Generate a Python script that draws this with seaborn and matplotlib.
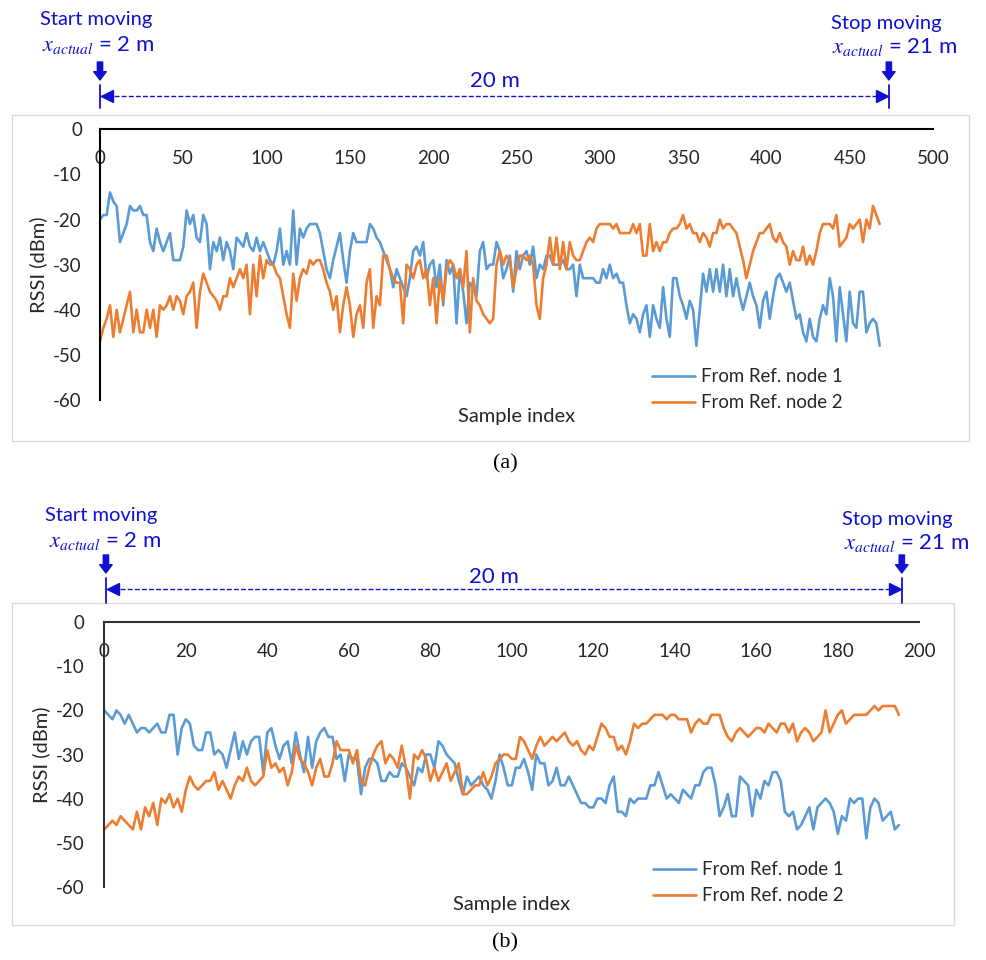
import numpy as np
import pandas as pd
import matplotlib
matplotlib.use("Agg")
import matplotlib.pyplot as plt
import seaborn as sns
from matplotlib.patches import Rectangle, FancyArrowPatch, ArrowStyle
from matplotlib.lines import Line2D
from matplotlib.transforms import blended_transform_factory, offset_copy

# ---------------------------------------------------------------- data
SERIES = ["From Ref. node 1", "From Ref. node 2"]

# (a) long walk, every second sample index
a_index = list(range(0, 469, 2))
a_node1 = [
    -20, -19, -19, -14, -16, -17, -25, -23, -21, -17,
    -18, -18, -17, -19, -19, -25, -27, -22, -25, -27,
    -25, -23, -29, -29, -29, -26, -18, -21, -19, -24,
    -25, -19, -21, -31, -25, -27, -24, -29, -25, -27,
    -31, -24, -25, -26, -23, -26, -27, -24, -27, -25,
    -27, -29, -30, -27, -22, -30, -27, -30, -18, -30,
    -22, -24, -22, -21, -21, -21, -23, -27, -31, -33,
    -29, -26, -23, -29, -34, -27, -23, -25,
    -25, -25, -25, -21, -22, -24, -25, -27, -29, -31,
    -35, -31, -33, -35, -37, -33, -27, -26, -28, -25,
    -33, -30, -29, -35, -30, -39, -29, -32, -30, -43,
    -31, -36, -43, -34, -35, -37, -27, -25, -31, -30,
    -30, -25, -27, -33, -31, -28, -36, -27, -31, -28,
    -27, -30, -26, -33, -30, -31, -28, -28, -30, -30,
    -30, -29, -31, -31, -30, -37, -30, -33, -33, -33,
    -33, -34, -34, -31, -33, -30, -33, -32, -34, -34,
    -39,
    -43, -41, -42, -45, -41, -39, -46, -39, -42, -44,
    -35, -42, -46, -33, -33, -37, -39, -42, -38, -40,
    -48, -40, -32, -36, -31, -36, -31, -36, -30, -37,
    -31, -37, -33, -37, -40, -37, -34, -37, -39, -44,
    -38, -36, -42, -37, -33, -32, -34, -36, -34, -38,
    -42, -41, -45, -47, -42, -46, -47, -42, -39, -41,
    -33, -37, -47, -35, -41, -47, -36, -43, -44, -36,
    -36, -45, -43, -42, -43, -48,
]
a_node2 = [
    -47, -44, -42, -39, -46, -40, -45, -42, -39, -36,
    -45, -40, -45, -45, -40, -44, -40, -46, -39, -40,
    -39, -37, -40, -37, -38, -41, -37, -36, -34, -44,
    -36, -32, -34, -36, -37, -38, -40, -37, -37, -33,
    -35, -33, -31, -33, -30, -41, -30, -37, -28, -33,
    -29, -30, -30, -32, -33, -37, -41, -44, -32, -38,
    -33, -31, -32, -29, -30, -29, -29, -31, -34, -36,
    -40, -37, -45, -39, -35, -39, -46, -41,
    -39, -44, -34, -31, -44, -37, -39, -28, -28, -31,
    -33, -34, -34, -43, -30, -31, -33, -30, -29, -33,
    -31, -39, -33, -43, -33, -38, -31, -29, -30, -33,
    -31, -35, -27, -45, -33, -38, -39, -41, -42, -43,
    -42, -30, -27, -30, -28, -29, -35, -31, -28, -28,
    -29, -28, -30, -39, -42, -33, -30, -24, -30, -24,
    -31, -25, -31, -25, -28, -29, -29, -27, -25, -24,
    -25, -22, -21, -21, -21, -21, -22, -21, -23, -23,
    -23,
    -23, -21, -23, -21, -28, -28, -21, -27, -25, -27,
    -25, -25, -23, -22, -22, -21, -19, -22, -21, -23,
    -23, -25, -23, -24, -26, -23, -23, -20, -22, -21,
    -21, -22, -23, -26, -29, -33, -30, -27, -25, -23,
    -23, -22, -21, -24, -25, -23, -25, -26, -30, -27,
    -29, -29, -26, -30, -28, -30, -27, -23, -21, -21,
    -21, -22, -19, -26, -25, -24, -21, -22, -21, -20,
    -25, -20, -22, -17, -19, -21,
]

# (b) short walk, every sample index
b_index = list(range(0, 196))
b_node1 = [
    -20, -21, -22, -20, -21, -23, -21, -23, -25, -24,
    -24, -25, -24, -23, -25, -25, -21, -21, -30, -24,
    -22, -23, -28, -29, -29, -25, -25, -30, -29, -30,
    -33, -29, -25, -31, -27, -30, -27, -26, -26, -34,
    -25, -24, -28, -31, -28, -27, -32, -25, -30, -34,
    -26, -33, -27, -25, -24, -26, -26, -31, -30, -36,
    -30, -31, -31, -39, -33, -31,
    -31, -32, -36, -36, -34, -35, -35, -32, -33, -35,
    -37, -33, -34, -30, -30, -33, -27, -28, -30, -31,
    -32, -36, -39, -35, -37, -36, -35, -37, -38, -40,
    -36, -30, -33, -37, -37, -33, -33, -31, -34, -38,
    -30, -32, -32, -37, -36, -33, -37, -37, -35, -37,
    -39, -41, -41, -42, -42, -40, -40, -41, -37, -35,
    -43, -43, -44, -40, -41,
    -40, -40, -40, -37, -37, -34, -37, -40, -39, -40,
    -41, -38, -39, -40, -37, -37, -34, -33, -33, -37,
    -44, -42, -39, -44, -44, -35, -36, -37, -44, -38,
    -40, -36, -37, -34, -34, -36, -43, -44, -43, -47,
    -46, -44, -42, -47, -42, -41, -40, -41, -43, -48,
    -44, -45, -40, -41, -40, -40, -49, -42, -40, -41,
    -45, -44, -43, -47, -46,
]
b_node2 = [
    -47, -46, -45, -46, -44, -45, -46, -47, -43, -47,
    -42, -44, -41, -46, -40, -41, -39, -42, -40, -43,
    -38, -35, -37, -38, -37, -36, -36, -34, -38, -36,
    -38, -40, -37, -35, -36, -33, -36, -37, -36, -35,
    -29, -33, -32, -34, -33, -37, -34, -28, -31, -32,
    -34, -37, -33, -31, -35, -35, -32, -27, -29, -29,
    -29, -32, -29, -36, -37, -33,
    -30, -28, -27, -32, -30, -31, -33, -28, -33, -40,
    -30, -31, -29, -31, -36, -33, -36, -34, -32, -36,
    -34, -32, -39, -39, -38, -37, -37, -34, -37, -35,
    -32, -31, -30, -30, -31, -31, -26, -27, -29, -31,
    -28, -26, -28, -27, -26, -27, -26, -25, -27, -28,
    -27, -29, -30, -28, -29, -26, -23, -24, -26, -26,
    -29, -28, -30, -27, -23,
    -24, -23, -23, -22, -21, -21, -21, -22, -21, -21,
    -22, -22, -22, -25, -23, -22, -23, -23, -21, -21,
    -21, -24, -26, -27, -25, -24, -25, -26, -25, -24,
    -24, -25, -23, -24, -25, -23, -23, -25, -23, -27,
    -25, -24, -25, -27, -26, -25, -20, -25, -23, -21,
    -20, -23, -22, -21, -21, -21, -21, -20, -19, -20,
    -19, -19, -19, -19, -21,
]

# ---------------------------------------------------------------- style
sns.set_theme(style="white")
plt.rcParams["font.family"] = ["Lato", "DejaVu Sans"]
plt.rcParams["axes.unicode_minus"] = False

BLUE = "#5b9bd5"
ORANGE = "#ed7d31"
NOTE = "#1010d0"
INK = "#262626"

TICK_SIZE = 13.5
TITLE_SIZE = 14.5
LEGEND_SIZE = 13.4

W, H = 986, 960
fig = plt.figure(figsize=(W / 100, H / 100), dpi=100)
fig.patch.set_facecolor("white")


def fy(py):
    return 1 - py / H


def panel(geo, idx, node1, node2, xmax, xstep):
    x0, y0, x1, y1 = geo["axes"]
    ax = fig.add_axes([x0 / W, fy(y1), (x1 - x0) / W, (y1 - y0) / H])
    df = pd.DataFrame({
        "Sample index": list(idx) * 2,
        "RSSI (dBm)": list(node1) + list(node2),
        "series": [SERIES[0]] * len(idx) + [SERIES[1]] * len(idx),
    })
    sns.lineplot(data=df, x="Sample index", y="RSSI (dBm)", hue="series",
                 palette=[BLUE, ORANGE], linewidth=1.9, ax=ax)
    ax.set_xlim(0, xmax)
    ax.set_ylim(-60, 0)
    ax.set_xticks(np.arange(0, xmax + 1, xstep))
    ax.set_yticks(np.arange(-60, 1, 10))
    for side in ("right", "bottom"):
        ax.spines[side].set_visible(False)
    for side in ("top", "left"):
        ax.spines[side].set_visible(True)
        ax.spines[side].set_color(geo["spine"])
        ax.spines[side].set_linewidth(1.5)
    ax.tick_params(axis="x", bottom=False, labelbottom=False, top=True,
                   labeltop=True, length=0, pad=-27.5, labelsize=TICK_SIZE,
                   labelcolor=INK)
    ax.tick_params(axis="y", left=True, length=0, pad=geo["ypad"],
                   labelsize=TICK_SIZE, labelcolor=INK)
    ax.set_xlabel("Sample index", fontsize=TITLE_SIZE, color=INK,
                  labelpad=geo["xlabelpad"])
    ax.set_ylabel("RSSI (dBm)", fontsize=TITLE_SIZE, color=INK, labelpad=4)
    handles, labels = ax.get_legend_handles_labels()
    ax.legend(handles, labels, loc="upper left", bbox_to_anchor=geo["legend"],
              frameon=False, fontsize=LEGEND_SIZE, handlelength=2.3,
              handletextpad=0.32, borderpad=0, borderaxespad=0,
              labelspacing=0.5, labelcolor=INK)

    # chart area outline
    fx0, fy0, fx1, fy1 = geo["frame"]
    fig.add_artist(Rectangle((fx0 / W, fy(fy1)), (fx1 - fx0) / W,
                             (fy1 - fy0) / H, transform=fig.transFigure,
                             fill=False, ec="#d9d9d9", lw=1.0))

    # start / stop markers over the sample axis
    tr = blended_transform_factory(ax.transData, fig.transFigure)
    start, stop = geo["start"], geo["stop"]
    a_top, a_bot = geo["arrow"]
    b_top, b_bot = geo["bar"]
    yd = geo["dash"]
    for xs in (start, stop):
        fig.add_artist(FancyArrowPatch(
            (xs, fy(a_top)), (xs, fy(a_bot)), transform=tr,
            arrowstyle=ArrowStyle("simple", head_length=0.6, head_width=0.9,
                                  tail_width=0.38),
            mutation_scale=10, color=NOTE, shrinkA=0, shrinkB=0))
        fig.add_artist(Line2D([xs, xs], [fy(b_top), fy(b_bot)], transform=tr,
                              color=NOTE, lw=1.3))
    fig.add_artist(Line2D([start, stop], [fy(yd), fy(yd)], transform=tr,
                          color=NOTE, lw=1.0, dashes=(3.5, 1.6)))
    fig.add_artist(Line2D([start], [fy(yd)], marker="<", markersize=8,
                          color=NOTE, lw=0,
                          transform=offset_copy(tr, fig=fig, x=7, y=0,
                                                units="dots")))
    fig.add_artist(Line2D([stop], [fy(yd)], marker=">", markersize=8,
                          color=NOTE, lw=0,
                          transform=offset_copy(tr, fig=fig, x=-7, y=0,
                                                units="dots")))

    def note(px, py, s, size=14.5, **kw):
        fig.text(px / W, fy(py), s, ha="center", va="center", color=NOTE,
                 fontsize=size, **kw)

    note(*geo["start_txt"], "Start moving")
    note(*geo["start_eq"], r"$x_{actual}$ = 2 m", size=16,
         math_fontfamily="stix")
    note(*geo["stop_txt"], "Stop moving")
    note(*geo["stop_eq"], r"$x_{actual}$ = 21 m", size=16,
         math_fontfamily="stix")
    note(*geo["span_txt"], "20 m", size=16)
    fig.text(geo["caption"][0] / W, fy(geo["caption"][1]), geo["tag"],
             ha="center", va="center", fontsize=16, color="black",
             family=["Liberation Serif", "DejaVu Serif"])
    return ax


geo_a = dict(axes=(100, 129.3, 933, 400), frame=(12, 115, 969, 441),
             spine="black", ypad=13, xlabelpad=6, legend=(0.663, 0.118),
             start=0, stop=473.5, arrow=(62, 80), bar=(85, 108), dash=96,
             start_txt=(96, 20), start_eq=(98, 45), stop_txt=(886, 23),
             stop_eq=(895, 47), span_txt=(495, 81), caption=(505, 464),
             tag="(a)")
geo_b = dict(axes=(104.3, 622.3, 919.3, 886.7), frame=(12, 603, 954, 925),
             spine="#333333", ypad=14, xlabelpad=7, legend=(0.673, 0.097),
             start=0.4, stop=195.7, arrow=(555, 573), bar=(578, 603),
             dash=589, start_txt=(101, 516), start_eq=(105, 541),
             stop_txt=(897, 520), stop_eq=(907, 543), span_txt=(494, 577),
             caption=(505, 943), tag="(b)")

panel(geo_a, a_index, a_node1, a_node2, 500, 50)
panel(geo_b, b_index, b_node1, b_node2, 200, 20)

fig.savefig("out.png", dpi=100, facecolor="white")
